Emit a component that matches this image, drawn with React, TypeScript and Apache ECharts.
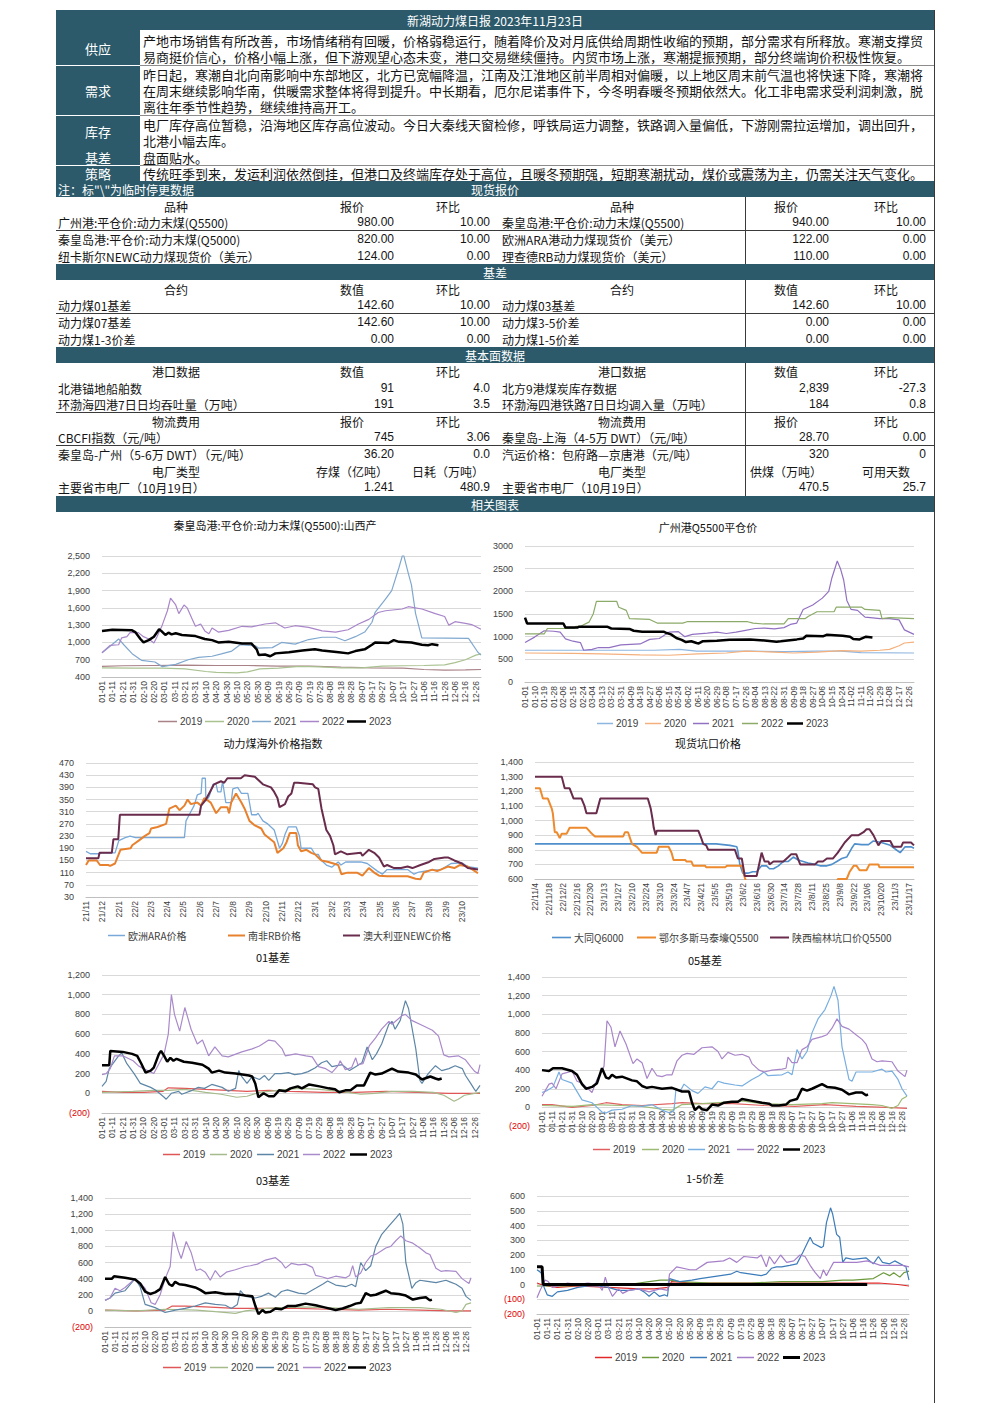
import React, { useEffect, useRef } from 'react';
import * as echarts from 'echarts';

// ---------------- text content ----------------
const reportTitle = '新湖动力煤日报 2023年11月23日';
const commentaryLabels = ['供应', '需求', '库存', '基差', '策略'];
const supplyLines = [
  '产地市场销售有所改善，市场情绪稍有回暖，价格弱稳运行，随着降价及对月底供给周期性收缩的预期，部分需求有所释放。寒潮支撑贸',
  '易商挺价信心，价格小幅上涨，但下游观望心态未变，港口交易继续僵持。内贸市场上涨，寒潮提振预期，部分终端询价积极性恢复。',
];
const demandLines = [
  '昨日起，寒潮自北向南影响中东部地区，北方已宽幅降温，江南及江淮地区前半周相对偏暖，以上地区周末前气温也将快速下降，寒潮将',
  '在周末继续影响华南，供暖需求整体将得到提升。中长期看，厄尔尼诺事件下，今冬明春暖冬预期依然大。化工非电需求受利润刺激，脱',
  '离往年季节性趋势，继续维持高开工。',
];
const stockLines = [
  '电厂库存高位暂稳，沿海地区库存高位波动。今日大秦线天窗检修，呼铁局运力调整，铁路调入量偏低，下游刚需拉运增加，调出回升，',
  '北港小幅去库。',
];
const basisLines = ['盘面贴水。'];
const strategyLines = [
  '传统旺季到来，发运利润依然倒挂，但港口及终端库存处于高位，且暖冬预期强，短期寒潮扰动，煤价或震荡为主，仍需关注天气变化。',
];
const noteText = '注：标"\\"为临时停更数据';
const sectionTitles = ['现货报价', '基差', '基本面数据', '相关图表'];

const spotHeader = ['品种', '报价', '环比', '品种', '报价', '环比'];
const spotRows = [
  ['广州港:平仓价:动力末煤(Q5500)', '980.00', '10.00', '秦皇岛港:平仓价:动力末煤(Q5500)', '940.00', '10.00'],
  ['秦皇岛港:平仓价:动力末煤(Q5000)', '820.00', '10.00', '欧洲ARA港动力煤现货价（美元）', '122.00', '0.00'],
  ['纽卡斯尔NEWC动力煤现货价（美元）', '124.00', '0.00', '理查德RB动力煤现货价（美元）', '110.00', '0.00'],
];
const basisHeader = ['合约', '数值', '环比', '合约', '数值', '环比'];
const basisRows = [
  ['动力煤01基差', '142.60', '10.00', '动力煤03基差', '142.60', '10.00'],
  ['动力煤07基差', '142.60', '10.00', '动力煤3-5价差', '0.00', '0.00'],
  ['动力煤1-3价差', '0.00', '0.00', '动力煤1-5价差', '0.00', '0.00'],
];
const portHeader = ['港口数据', '数值', '环比', '港口数据', '数值', '环比'];
const portRows = [
  ['北港锚地船舶数', '91', '4.0', '北方9港煤炭库存数据', '2,839', '-27.3'],
  ['环渤海四港7日日均吞吐量（万吨）', '191', '3.5', '环渤海四港铁路7日日均调入量（万吨）', '184', '0.8'],
];
const freightHeader = ['物流费用', '报价', '环比', '物流费用', '报价', '环比'];
const freightRows = [
  ['CBCFI指数（元/吨）', '745', '3.06', '秦皇岛-上海（4-5万 DWT）（元/吨）', '28.70', '0.00'],
  ['秦皇岛-广州（5-6万 DWT）（元/吨）', '36.20', '0.0', '汽运价格：包府路—京唐港（元/吨）', '320', '0'],
];
const plantHeader = ['电厂类型', '存煤（亿吨）', '日耗（万吨）', '电厂类型', '供煤（万吨）', '可用天数'];
const plantRows = [
  ['主要省市电厂（10月19日）', '1.241', '480.9', '主要省市电厂（10月19日）', '470.5', '25.7'],
];

// ---------------- chart data ----------------
type Pt = [string, number];
const yearNames = ['2019', '2020', '2021', '2022', '2023'];

// Chart 1: 秦皇岛港 平仓价 Q5500 山西产
const qhd2019: Pt[] = [['01-01',585],['01-21',595],['02-20',600],['03-21',605],['04-20',600],['05-20',600],['06-19',590],['07-19',590],['08-18',570],['09-17',560],['10-17',555],['11-06',530],['11-26',520],['12-16',525],['12-31',530]];
const qhd2020: Pt[] = [['01-01',560],['01-31',555],['02-29',555],['03-21',540],['04-10',495],['04-20',480],['05-10',470],['05-20',490],['06-01',540],['06-19',555],['07-09',585],['07-29',575],['08-18',560],['09-07',560],['09-27',590],['10-17',595],['11-06',600],['11-26',610],['12-06',650],['12-16',700],['12-26',780],['12-31',800]];
const qhd2021: Pt[] = [['01-01',820],['01-10',950],['01-17',1060],['01-22',960],['01-30',805],['02-08',690],['02-21',660],['02-28',580],['03-12',620],['03-24',700],['04-03',740],['04-16',760],['04-25',800],['05-05',850],['05-13',960],['05-28',940],['05-31',900],['06-13',910],['06-22',1000],['07-05',970],['07-18',1050],['07-31',1090],['08-13',1090],['08-22',1030],['09-01',1100],['09-10',1180],['09-17',1350],['09-20',1520],['09-30',1750],['10-06',1900],['10-13',2300],['10-17',2550],['10-22',2200],['10-25',2000],['10-29',1500],['11-04',1080],['12-19',1070],['12-28',830],['12-31',780]];
const qhd2022: Pt[] = [['01-01',820],['01-09',950],['01-17',960],['01-20',1080],['01-25',1100],['01-28',1170],['02-05',1170],['02-10',1100],['02-15',1060],['02-20',990],['02-23',1100],['02-28',1300],['03-04',1550],['03-07',1770],['03-12',1650],['03-15',1500],['03-20',1650],['03-23',1600],['03-28',1400],['03-31',1280],['04-05',1320],['04-09',1200],['04-13',1150],['04-16',1250],['04-22',1180],['05-02',1210],['05-15',1280],['05-24',1270],['06-06',1320],['06-16',1340],['06-25',1250],['07-05',1290],['07-18',1260],['07-31',1200],['08-13',1180],['08-25',1220],['09-04',1320],['09-14',1400],['09-23',1520],['09-30',1550],['10-16',1580],['10-22',1620],['11-04',1580],['11-17',1500],['11-26',1450],['11-30',1300],['12-06',1360],['12-16',1330],['12-22',1310],['12-31',1230]];
const qhd2023: Pt[] = [['01-01',1200],['01-11',1220],['01-30',1210],['02-02',1180],['02-07',1060],['02-10',1000],['02-15',1040],['02-20',1100],['02-25',1230],['02-27',1200],['03-02',1130],['03-05',1170],['03-08',1140],['03-12',1160],['03-18',1130],['03-31',1110],['04-09',1060],['04-16',1040],['04-22',1000],['05-02',1010],['05-15',980],['05-24',980],['05-29',880],['05-31',780],['06-06',790],['06-11',760],['06-16',810],['06-29',830],['07-12',860],['07-24',880],['07-31',860],['08-16',830],['08-25',810],['09-01',850],['09-10',880],['09-17',960],['09-20',1000],['10-03',990],['10-08',1040],['10-13',1010],['10-25',1000],['11-04',960],['11-10',950],['11-14',970],['11-20',950]];

// Chart 2: 广州港Q5500平仓价
const gz2019: Pt[] = [['01-01',700],['03-01',700],['05-01',700],['05-25',720],['06-10',680],['08-01',680],['09-01',670],['10-01',680],['10-24',680],['11-11',650],['12-31',640]];
const gz2020: Pt[] = [['01-01',640],['02-15',630],['03-13',620],['04-18',600],['05-15',590],['06-11',620],['07-08',640],['07-26',680],['08-22',660],['09-09',640],['10-01',660],['10-24',690],['11-11',680],['11-29',700],['12-08',720],['12-17',800],['12-22',860],['12-31',880]];
const gz2021: Pt[] = [['01-01',870],['01-10',990],['01-19',1130],['01-28',1120],['02-03',1100],['02-08',950],['02-15',900],['02-22',870],['02-25',700],['03-04',720],['03-10',760],['03-20',760],['03-31',820],['04-18',840],['04-27',940],['05-06',960],['05-15',1100],['05-24',1110],['05-30',1000],['06-06',1050],['06-20',1080],['06-29',1100],['07-08',1070],['07-17',1100],['07-26',1140],['08-04',1180],['08-13',1190],['08-22',1170],['08-31',1200],['09-06',1270],['09-12',1300],['09-18',1600],['09-27',1700],['10-06',1850],['10-12',2000],['10-15',2300],['10-20',2670],['10-23',2500],['10-26',2250],['10-29',1800],['11-02',1600],['11-08',1580],['11-15',1430],['11-20',1420],['11-29',1400],['12-08',1400],['12-17',1370],['12-22',1150],['12-31',1050]];
const gz2022: Pt[] = [['01-01',1060],['01-19',1060],['01-22',1180],['02-16',1180],['02-18',1230],['02-22',1230],['02-24',1250],['03-01',1320],['03-05',1500],['03-08',1780],['03-27',1780],['03-29',1650],['04-05',1580],['04-08',1400],['04-27',1380],['05-04',1300],['05-28',1300],['06-01',1330],['07-28',1330],['08-02',1300],['08-12',1280],['08-31',1280],['09-04',1400],['09-20',1400],['09-23',1450],['10-01',1550],['10-17',1550],['10-19',1650],['11-12',1650],['11-15',1600],['11-29',1580],['12-01',1400],['12-08',1420],['12-31',1400]];
const gz2023: Pt[] = [['01-01',1420],['01-03',1290],['02-06',1290],['02-08',1200],['02-19',1200],['02-21',1220],['03-18',1220],['03-22',1180],['04-08',1170],['04-12',1130],['04-20',1110],['05-10',1110],['05-13',1080],['05-17',1050],['05-22',970],['05-27',930],['05-31',880],['06-05',900],['06-10',860],['06-12',850],['06-16',900],['06-29',910],['07-11',930],['07-30',940],['08-15',910],['08-24',890],['08-28',900],['09-12',940],['09-18',960],['09-21',1020],['10-07',1010],['10-10',1040],['10-25',1020],['11-01',1000],['11-04',950],['11-10',940],['11-16',1000],['11-22',980]];

// Chart 3: 动力煤海外价格指数
const overseasNames = ['欧洲ARA价格', '南非RB价格', '澳大利亚NEWC价格'];
const araPrice: Pt[] = [['2021-11-01',180],['2021-11-09',172],['2021-11-27',172],['2021-11-30',175],['2021-12-25',175],['2022-01-01',215],['2022-01-13',225],['2022-01-22',230],['2022-02-01',225],['2022-05-03',225],['2022-05-06',280],['2022-05-12',300],['2022-05-21',330],['2022-05-27',365],['2022-06-03',370],['2022-06-05',420],['2022-06-11',420],['2022-06-12',345],['2022-06-18',360],['2022-06-25',400],['2022-07-01',400],['2022-07-04',375],['2022-07-10',375],['2022-07-13',410],['2022-07-19',340],['2022-07-29',340],['2022-08-01',385],['2022-08-10',390],['2022-08-17',370],['2022-08-29',370],['2022-09-05',300],['2022-09-14',300],['2022-09-17',305],['2022-09-26',280],['2022-10-05',270],['2022-10-17',250],['2022-10-27',190],['2022-11-01',205],['2022-11-06',235],['2022-11-12',260],['2022-11-27',260],['2022-12-03',230],['2022-12-06',190],['2022-12-25',190],['2023-01-01',170],['2023-01-07',170],['2023-01-13',150],['2023-01-22',135],['2023-02-01',128],['2023-02-13',145],['2023-02-18',135],['2023-02-27',145],['2023-03-27',145],['2023-04-08',140],['2023-04-27',115],['2023-05-06',105],['2023-05-15',120],['2023-06-22',120],['2023-07-04',105],['2023-07-13',112],['2023-08-04',118],['2023-08-23',120],['2023-09-11',140],['2023-10-01',142],['2023-10-12',130],['2023-10-31',125]];
const rbPrice: Pt[] = [['2021-11-01',135],['2021-11-06',150],['2021-11-21',150],['2021-11-27',135],['2021-12-12',135],['2021-12-16',132],['2021-12-25',140],['2022-01-04',185],['2022-01-23',190],['2022-01-26',200],['2022-02-07',215],['2022-02-18',230],['2022-02-27',240],['2022-03-02',255],['2022-03-14',260],['2022-03-30',270],['2022-04-05',320],['2022-04-17',330],['2022-04-24',315],['2022-05-03',330],['2022-05-09',350],['2022-05-15',335],['2022-05-27',340],['2022-06-03',330],['2022-06-09',355],['2022-06-21',340],['2022-07-01',305],['2022-07-10',325],['2022-07-22',325],['2022-07-25',305],['2022-07-29',340],['2022-08-07',370],['2022-08-17',340],['2022-08-23',320],['2022-09-01',280],['2022-09-11',265],['2022-09-23',255],['2022-09-29',235],['2022-10-17',210],['2022-10-23',175],['2022-11-03',190],['2022-11-09',210],['2022-11-15',240],['2022-11-27',240],['2022-11-30',200],['2022-12-06',180],['2022-12-16',185],['2022-12-25',175],['2023-01-01',170],['2023-01-07',160],['2023-01-13',150],['2023-01-26',145],['2023-02-13',135],['2023-02-19',105],['2023-03-02',110],['2023-03-20',110],['2023-03-30',100],['2023-04-11',125],['2023-04-21',110],['2023-04-30',100],['2023-05-15',98],['2023-06-22',98],['2023-07-07',90],['2023-07-16',88],['2023-07-22',110],['2023-08-07',120],['2023-08-16',115],['2023-09-05',130],['2023-09-17',125],['2023-09-27',135],['2023-10-12',130],['2023-10-21',120],['2023-10-31',108]];
const newcPrice: Pt[] = [['2021-11-01',157],['2021-11-24',157],['2021-11-26',175],['2021-12-19',175],['2021-12-22',220],['2021-12-31',220],['2022-01-03',300],['2022-05-31',300],['2022-06-03',330],['2022-06-12',350],['2022-06-21',380],['2022-06-27',400],['2022-07-10',410],['2022-07-16',405],['2022-07-22',420],['2022-08-16',420],['2022-08-23',430],['2022-09-11',425],['2022-09-20',410],['2022-09-26',400],['2022-10-11',390],['2022-10-17',375],['2022-10-23',355],['2022-10-27',325],['2022-11-06',335],['2022-11-12',360],['2022-11-18',370],['2022-11-23',405],['2022-11-30',405],['2022-12-28',400],['2023-01-01',390],['2023-01-07',385],['2023-01-13',320],['2023-01-22',250],['2023-01-29',230],['2023-02-04',200],['2023-02-07',170],['2023-02-18',180],['2023-03-02',170],['2023-03-27',175],['2023-03-30',165],['2023-04-11',185],['2023-04-21',175],['2023-04-30',160],['2023-05-09',130],['2023-05-15',135],['2023-05-28',125],['2023-06-10',125],['2023-06-22',130],['2023-07-01',125],['2023-07-16',135],['2023-08-01',145],['2023-08-11',155],['2023-08-30',160],['2023-09-05',160],['2023-09-17',150],['2023-10-01',140],['2023-10-12',125],['2023-10-31',120]];

// Chart 4: 现货坑口价格
const mineNames = ['大同Q6000', '鄂尔多斯马泰壕Q5500', '陕西榆林坑口价Q5500'];
const datongPrice: Pt[] = [['2022-11-04',840],['2023-05-06',840],['2023-05-13',835],['2023-05-20',830],['2023-05-27',820],['2023-05-28',790],['2023-05-30',700],['2023-06-02',640],['2023-06-07',640],['2023-06-12',650],['2023-06-16',650],['2023-06-21',690],['2023-06-26',690],['2023-06-29',670],['2023-07-03',670],['2023-07-08',690],['2023-07-13',720],['2023-07-18',720],['2023-07-23',750],['2023-07-28',730],['2023-08-02',720],['2023-08-07',710],['2023-08-14',700],['2023-08-19',690],['2023-08-26',690],['2023-08-31',700],['2023-09-05',720],['2023-09-10',740],['2023-09-15',750],['2023-09-20',810],['2023-09-23',840],['2023-09-30',835],['2023-10-07',835],['2023-10-12',860],['2023-10-20',850],['2023-10-29',830],['2023-11-04',800],['2023-11-08',780],['2023-11-13',820],['2023-11-19',820],['2023-11-22',810]];
const ordosPrice: Pt[] = [['2022-11-04',1220],['2022-11-09',1220],['2022-11-12',1150],['2022-11-17',1150],['2022-11-21',1080],['2022-11-22',1050],['2022-11-24',920],['2022-11-26',920],['2022-11-29',880],['2022-12-01',910],['2022-12-06',910],['2022-12-09',950],['2022-12-26',950],['2022-12-30',920],['2023-01-02',900],['2023-01-04',890],['2023-02-01',890],['2023-02-03',920],['2023-02-06',920],['2023-02-10',840],['2023-02-15',820],['2023-02-20',780],['2023-03-07',780],['2023-03-09',820],['2023-03-19',820],['2023-03-22',780],['2023-03-24',730],['2023-04-05',730],['2023-04-06',720],['2023-04-11',720],['2023-04-13',690],['2023-04-25',690],['2023-04-26',680],['2023-05-15',680],['2023-05-17',690],['2023-06-01',690],['2023-06-04',610],['2023-06-06',570],['2023-09-05',570],['2023-09-06',600],['2023-09-15',600],['2023-09-18',650],['2023-09-22',690],['2023-09-25',690],['2023-09-28',660],['2023-10-05',660],['2023-10-08',700],['2023-10-17',700],['2023-10-18',680],['2023-11-22',680]];
const yulinPrice: Pt[] = [['2022-11-04',1300],['2022-12-01',1300],['2022-12-04',1220],['2022-12-09',1220],['2022-12-13',1150],['2022-12-21',1150],['2022-12-24',1100],['2022-12-26',1050],['2023-01-05',1050],['2023-01-07',1100],['2023-01-09',1150],['2023-02-26',1150],['2023-03-01',1080],['2023-03-03',1000],['2023-03-04',950],['2023-03-06',900],['2023-03-07',930],['2023-04-18',930],['2023-04-21',880],['2023-04-23',840],['2023-04-26',830],['2023-04-28',800],['2023-05-25',800],['2023-05-28',740],['2023-06-01',740],['2023-06-04',620],['2023-06-16',620],['2023-06-21',780],['2023-06-24',720],['2023-06-28',720],['2023-06-29',700],['2023-07-03',720],['2023-07-13',720],['2023-07-18',750],['2023-07-21',770],['2023-07-26',770],['2023-07-30',700],['2023-08-14',700],['2023-08-17',720],['2023-08-22',720],['2023-08-26',740],['2023-09-01',740],['2023-09-06',780],['2023-09-13',850],['2023-09-20',900],['2023-09-27',900],['2023-10-02',920],['2023-10-05',940],['2023-10-08',940],['2023-10-12',900],['2023-10-17',830],['2023-10-20',860],['2023-10-29',860],['2023-11-01',820],['2023-11-09',820],['2023-11-11',850],['2023-11-19',850],['2023-11-22',830]];

// Chart 5: 01基差
const b01_2019: Pt[] = [['01-01',20],['01-21',10],['02-10',10],['02-29',20],['03-05',55],['03-21',50],['04-10',40],['05-01',30],['05-20',20],['06-10',30],['07-01',20],['08-01',10],['09-01',10],['10-01',20],['11-01',10],['12-01',0],['12-31',0]];
const b01_2020: Pt[] = [['01-01',10],['01-31',20],['02-20',30],['03-05',30],['03-21',40],['04-10',10],['04-25',-10],['05-10',-40],['05-20',-30],['06-01',10],['06-19',30],['07-09',50],['07-29',40],['08-18',20],['09-07',-10],['09-20',0],['10-07',20],['10-27',20],['11-16',10],['11-26',-20],['12-06',-80],['12-10',-60],['12-16',-20],['12-26',0],['12-31',10]];
const b01_2021: Pt[] = [['01-01',70],['01-05',120],['01-08',250],['01-17',380],['01-20',410],['01-25',300],['02-01',200],['02-07',100],['02-17',60],['02-22',30],['03-01',-40],['03-03',-60],['03-08',0],['03-15',20],['03-18',-10],['03-28',30],['04-03',60],['04-09',50],['04-16',90],['04-26',60],['05-02',20],['05-09',50],['05-12',230],['05-15',170],['05-20',100],['05-25',170],['06-01',140],['06-06',180],['06-10',130],['06-16',200],['06-22',200],['06-29',210],['07-05',190],['07-12',200],['07-18',220],['07-25',260],['07-31',310],['08-05',330],['08-10',270],['08-20',290],['08-27',230],['09-02',270],['09-08',310],['09-13',470],['09-18',340],['09-22',400],['09-27',500],['10-04',700],['10-07',730],['10-10',650],['10-15',740],['10-20',940],['10-23',860],['10-30',450],['11-03',130],['11-05',100],['11-11',200],['11-18',280],['11-24',230],['12-01',250],['12-07',280],['12-14',250],['12-17',180],['12-22',100],['12-25',50],['12-27',20],['12-31',80]];
const b01_2022: Pt[] = [['01-01',190],['01-05',200],['01-09',250],['01-13',380],['01-21',380],['01-31',330],['02-05',280],['02-10',250],['02-20',200],['02-25',300],['03-01',400],['03-05',600],['03-08',1000],['03-11',800],['03-16',630],['03-21',870],['03-27',650],['04-02',500],['04-07',540],['04-13',380],['04-19',470],['04-26',380],['05-02',370],['05-15',420],['05-25',450],['06-01',480],['06-10',540],['06-16',530],['06-23',450],['06-26',380],['07-06',400],['07-16',380],['07-22',370],['07-28',270],['08-04',250],['08-10',210],['08-16',280],['08-18',330],['08-23',240],['08-29',260],['09-02',360],['09-04',290],['09-09',300],['09-15',480],['09-21',560],['09-27',650],['10-04',730],['10-07',700],['10-17',790],['10-20',800],['10-26',740],['11-05',690],['11-15',640],['11-21',580],['11-26',390],['12-01',370],['12-10',380],['12-17',340],['12-22',270],['12-26',220],['12-29',200],['12-31',290]];
const b01_2023: Pt[] = [['01-01',285],['01-08',285],['01-09',430],['01-21',420],['01-30',400],['02-04',380],['02-08',300],['02-12',210],['02-17',230],['02-20',260],['02-25',400],['02-27',430],['03-01',380],['03-04',320],['03-07',360],['03-10',330],['03-13',350],['03-20',320],['03-28',310],['04-07',290],['04-13',250],['04-16',210],['04-23',230],['04-29',210],['05-09',200],['05-22',180],['05-25',170],['05-28',100],['05-31',-40],['06-05',0],['06-10',-30],['06-15',-30],['06-20',30],['06-26',20],['07-01',50],['07-08',70],['07-12',50],['07-19',90],['07-29',70],['08-07',50],['08-13',40],['08-17',10],['08-23',30],['08-28',30],['09-03',80],['09-10',80],['09-16',210],['09-21',190],['09-27',200],['10-07',250],['10-13',220],['10-23',210],['10-30',190],['11-05',140],['11-13',170],['11-18',150],['11-21',140],['11-24',150]];

// Chart 6: 05基差
const b05_2019: Pt[] = [['01-01',30],['01-11',30],['01-31',0],['02-20',20],['03-05',50],['03-21',30],['04-10',20],['05-10',40],['05-20',50],['06-10',40],['07-10',40],['08-10',20],['09-10',10],['10-10',30],['11-10',10],['12-10',0],['12-31',-10]];
const b05_2020: Pt[] = [['01-01',20],['02-01',10],['02-20',30],['03-20',20],['04-10',10],['04-30',-20],['05-10',-30],['05-15',0],['05-20',30],['06-09',40],['07-09',60],['07-19',70],['08-08',40],['09-07',30],['10-07',40],['10-17',50],['11-06',40],['11-26',30],['12-06',20],['12-16',-10],['12-22',20],['12-26',90],['12-31',120]];
const b05_2021: Pt[] = [['01-01',160],['01-06',180],['01-12',220],['01-18',380],['01-21',300],['01-31',260],['02-10',80],['02-20',50],['02-25',0],['03-01',-50],['03-05',-60],['03-11',-30],['03-21',-20],['03-31',20],['04-10',10],['04-20',30],['04-30',-30],['05-08',-60],['05-12',-30],['05-14',200],['05-18',170],['05-22',250],['05-30',180],['06-05',150],['06-12',220],['06-19',200],['06-25',280],['07-01',260],['07-12',240],['07-19',230],['07-29',300],['08-05',340],['08-10',380],['08-14',340],['08-28',350],['09-03',380],['09-07',350],['09-12',620],['09-17',520],['09-22',600],['09-27',800],['10-03',950],['10-10',1050],['10-16',1200],['10-19',1300],['10-23',1150],['10-27',650],['11-03',300],['11-06',280],['11-10',380],['11-16',380],['11-26',380],['12-06',410],['12-10',380],['12-16',390],['12-22',300],['12-26',200],['12-31',120]];
const b05_2022: Pt[] = [['01-01',120],['01-08',250],['01-11',260],['01-15',200],['01-21',360],['01-31',390],['02-05',280],['02-10',260],['02-20',160],['02-25',300],['03-03',440],['03-06',930],['03-10',860],['03-14',650],['03-19',820],['03-25',680],['04-01',470],['04-05',520],['04-10',480],['04-15',310],['04-20',420],['04-25',340],['04-30',330],['05-05',350],['05-10',350],['05-15',500],['05-20',560],['05-25',580],['06-01',570],['06-09',640],['06-19',650],['06-25',600],['06-29',520],['07-05',590],['07-12',560],['07-19',570],['07-26',540],['07-29',470],['08-05',400],['08-10',380],['08-18',400],['08-28',410],['09-01',420],['09-03',540],['09-07',480],['09-12',480],['09-17',620],['09-22',650],['09-27',730],['10-07',760],['10-12',780],['10-17',850],['10-22',950],['10-27',870],['11-03',840],['11-10',780],['11-16',730],['11-20',680],['11-26',520],['12-01',490],['12-06',500],['12-16',490],['12-22',390],['12-29',330],['12-31',400]];
const b05_2023: Pt[] = [['01-01',400],['01-08',390],['01-12',420],['01-21',420],['01-31',390],['02-05',350],['02-10',250],['02-14',200],['02-20',220],['02-25',260],['03-01',420],['03-05',320],['03-08',310],['03-11',350],['03-15',320],['03-21',330],['03-31',290],['04-05',280],['04-10',230],['04-15',210],['04-20',220],['04-30',200],['05-10',210],['05-20',170],['05-27',170],['05-30',50],['06-02',-30],['06-06',10],['06-09',-20],['06-14',-30],['06-19',30],['06-25',20],['07-01',50],['07-09',60],['07-15',60],['07-19',90],['07-29',70],['08-08',50],['08-15',40],['08-18',20],['08-25',20],['09-01',30],['09-05',70],['09-12',90],['09-17',200],['09-22',180],['09-27',200],['10-07',250],['10-12',220],['10-20',210],['10-27',190],['11-03',140],['11-10',160],['11-16',160],['11-20',130],['11-22',140]];

// Chart 7: 03基差
const b03_2019: Pt[] = [['01-01',10],['02-01',0],['03-01',10],['03-08',60],['03-21',60],['04-10',50],['05-10',30],['06-10',30],['07-10',30],['08-10',20],['09-10',10],['10-10',20],['11-10',10],['12-10',0],['12-31',0]];
const b03_2020: Pt[] = [['01-01',10],['02-01',0],['03-01',20],['04-01',10],['04-20',-10],['05-10',-30],['05-20',0],['06-10',30],['07-10',50],['08-10',40],['09-10',20],['10-10',40],['11-10',40],['12-01',20],['12-16',-20],['12-22',0],['12-26',80],['12-31',100]];
const b03_2021: Pt[] = [['01-01',130],['01-06',160],['01-11',220],['01-21',250],['01-31',400],['02-05',300],['02-10',80],['02-20',40],['02-25',10],['03-01',-20],['03-11',10],['03-21',30],['03-31',60],['04-10',100],['04-20',80],['04-30',70],['05-06',30],['05-12',80],['05-15',250],['05-20',180],['05-30',160],['06-05',180],['06-12',220],['06-19',170],['06-25',240],['07-01',260],['07-12',220],['07-19',210],['07-29',280],['08-05',330],['08-10',370],['08-18',320],['08-28',300],['09-03',330],['09-07',300],['09-12',600],['09-17',500],['09-22',560],['09-27',800],['10-03',950],['10-10',1050],['10-17',1150],['10-21',1210],['10-24',1080],['10-27',600],['11-02',280],['11-06',350],['11-10',380],['11-16',370],['11-26',350],['12-06',380],['12-10',360],['12-16',330],['12-22',280],['12-26',180],['12-31',130]];
const b03_2022: Pt[] = [['01-01',130],['01-06',160],['01-11',280],['01-16',250],['01-21',290],['01-31',400],['02-05',350],['02-10',280],['02-16',100],['02-20',80],['02-25',200],['03-01',400],['03-06',550],['03-09',980],['03-14',750],['03-17',650],['03-22',860],['03-27',720],['04-01',500],['04-05',520],['04-10',480],['04-15',380],['04-20',500],['04-25',420],['05-01',480],['05-10',510],['05-20',550],['05-25',560],['06-01',580],['06-09',630],['06-19',660],['06-25',600],['06-29',530],['07-05',590],['07-12',570],['07-19',580],['07-26',540],['07-29',440],['08-05',420],['08-10',400],['08-18',430],['08-28',410],['09-01',440],['09-04',560],['09-07',420],['09-12',470],['09-17',600],['09-22',680],['09-27',700],['10-07',780],['10-12',800],['10-17',870],['10-22',930],['10-27',870],['11-03',840],['11-10',780],['11-16',720],['11-20',700],['11-26',530],['12-01',490],['12-06',500],['12-16',490],['12-22',400],['12-29',340],['12-31',410]];
const b03_2023: Pt[] = [['01-01',400],['01-08',400],['01-10',430],['01-21',410],['01-31',390],['02-05',340],['02-10',240],['02-15',210],['02-20',230],['02-25',270],['03-01',420],['03-05',330],['03-08',310],['03-11',360],['03-15',330],['03-21',320],['03-31',290],['04-05',260],['04-10',220],['04-20',230],['04-30',210],['05-10',210],['05-20',190],['05-27',180],['05-30',60],['06-02',-40],['06-06',10],['06-09',-20],['06-14',-10],['06-19',30],['06-25',20],['07-01',60],['07-09',60],['07-19',90],['07-29',70],['08-08',40],['08-18',10],['08-25',30],['09-01',60],['09-07',90],['09-12',100],['09-17',220],['09-22',190],['09-27',200],['10-07',250],['10-12',220],['10-20',210],['10-27',190],['11-03',140],['11-10',160],['11-16',170],['11-20',130],['11-22',140]];

// Chart 8: 1-5价差
const s15_2019: Pt[] = [['01-01',10],['01-05',0],['01-11',-10],['01-21',-20],['02-10',-10],['03-11',-20],['04-10',-30],['04-25',-30],['05-09',-20],['05-12',20],['06-01',10],['07-01',10],['08-01',10],['09-01',10],['10-01',10],['11-01',10],['12-01',10],['12-20',0],['12-31',-10]];
const s15_2020: Pt[] = [['01-01',-10],['02-01',-10],['03-01',0],['03-31',0],['04-10',10],['04-20',20],['05-01',30],['05-10',30],['05-20',20],['06-19',10],['07-29',10],['08-28',20],['09-27',20],['10-07',20],['10-27',30],['11-06',30],['11-26',40],['12-06',80],['12-12',60],['12-16',80],['12-22',50],['12-26',80],['12-31',90]];
const s15_2021: Pt[] = [['01-01',100],['01-05',80],['01-08',-20],['01-11',-70],['01-16',-80],['01-21',-50],['01-31',-40],['02-10',-20],['02-20',-10],['03-01',-10],['03-11',-20],['03-21',-40],['03-31',-40],['04-10',-30],['04-15',-50],['04-20',-80],['04-25',-50],['04-30',-80],['05-05',-70],['05-08',-80],['05-10',40],['05-20',20],['06-01',30],['06-09',40],['06-19',50],['06-29',60],['07-09',70],['07-15',90],['07-19',80],['07-29',70],['08-08',60],['08-13',70],['08-18',110],['08-23',120],['08-28',120],['09-05',130],['09-12',140],['09-18',220],['09-25',320],['09-28',280],['10-06',250],['10-08',260],['10-11',420],['10-15',520],['10-17',480],['10-21',340],['10-24',320],['10-27',150],['10-30',180],['11-06',170],['11-19',180],['11-26',140],['12-01',190],['12-05',150],['12-12',140],['12-17',160],['12-25',130],['12-28',120],['12-31',30]];
const s15_2022: Pt[] = [['01-01',-90],['01-04',-40],['01-09',30],['01-12',20],['01-16',-20],['01-21',-10],['01-31',10],['02-10',0],['02-20',10],['03-01',0],['03-05',-40],['03-08',50],['03-11',-20],['03-15',-80],['03-21',-30],['03-25',-60],['03-31',-40],['04-10',-30],['04-20',-50],['04-25',-40],['05-01',-30],['05-08',-40],['05-10',70],['05-17',120],['05-30',100],['06-05',100],['06-16',150],['07-02',160],['07-08',180],['07-15',150],['07-22',190],['08-04',180],['08-08',200],['08-13',120],['08-16',190],['08-21',140],['08-27',200],['09-02',150],['09-09',160],['09-15',200],['09-20',190],['09-25',130],['09-30',80],['10-05',40],['10-08',100],['10-11',60],['10-14',100],['10-18',150],['11-10',150],['11-20',160],['12-03',130],['12-25',130],['12-31',120]];
const s15_2023: Pt[] = [['01-01',120],['01-06',120],['01-07',0],['11-20',0]];

// ---------------- helpers ----------------
const CJK = 'Noto Sans CJK SC';
const LAT = 'Liberation Sans';
const TEAL = '#2c5a6a';
const pad = (n: number) => (n < 10 ? '0' + n : '' + n);

function seasonDays(): string[] {
  const md = [31, 29, 31, 30, 31, 30, 31, 31, 30, 31, 30, 31];
  const out: string[] = [];
  md.forEach((n, m) => { for (let d = 1; d <= n; d++) out.push(pad(m + 1) + '-' + pad(d)); });
  return out;
}
function dateRange(y0: number, m0: number, d0: number, y1: number, m1: number, d1: number): string[] {
  const out: string[] = [];
  let t = Date.UTC(y0, m0 - 1, d0);
  const end = Date.UTC(y1, m1 - 1, d1);
  while (t <= end) {
    const dt = new Date(t);
    out.push(dt.getUTCFullYear() + '-' + pad(dt.getUTCMonth() + 1) + '-' + pad(dt.getUTCDate()));
    t += 86400000;
  }
  return out;
}
function toIdx(cats: string[], pts: Pt[]) {
  const m = new Map(cats.map((c, i) => [c, i] as [string, number]));
  const out: [number, number][] = [];
  pts.forEach(([d, v]) => { const i = m.get(d); if (i === undefined) console.warn('bad date', d); else out.push([i, v]); });
  return out;
}
const fmtK = (v: number) => (v < 0 ? '{neg|(' + Math.abs(v).toLocaleString('en-US') + ')}' : v.toLocaleString('en-US'));
const fmtP = (v: number) => (v < 0 ? '{neg|(' + Math.abs(v) + ')}' : String(v));

function txt(text: string, x: number, y: number, o: any = {}) {
  return {
    type: 'text', x, y, silent: true, z: 10,
    style: {
      text, fill: o.fill || '#141414', fontSize: o.size || 12, fontFamily: o.font || CJK,
      textAlign: o.align || 'left', textVerticalAlign: 'middle', fontWeight: o.weight || 'normal',
    },
  };
}
function rect(x: number, y: number, w: number, h: number, fill: string) {
  return { type: 'rect', silent: true, z: 5, shape: { x, y, width: w, height: h }, style: { fill } };
}
function line(x1: number, y1: number, x2: number, y2: number, stroke: string, w = 1) {
  return { type: 'line', silent: true, z: 8, shape: { x1, y1, x2, y2 }, style: { stroke, lineWidth: w } };
}

// ---------------- layout ----------------
const SEASON = seasonDays();
const OVERSEAS = dateRange(2021, 11, 1, 2023, 10, 31);
const MINE = dateRange(2022, 11, 4, 2023, 11, 22);

type SeriesDef = { name: string; data: Pt[]; color: string; width: number };
type Panel = {
  title: string; tx: number; ty: number;
  grid: { left: number; top: number; width: number; height: number };
  cats: string[]; interval: any; labelFmt?: (v: string) => string; labelMargin?: number;
  y: { min: number; max: number; interval: number; fmt: (v: number) => string };
  series: SeriesDef[]; legendX: number[]; legendY: number; legendLen: number;
};

function years(datas: Pt[][], colors: string[], blackW = 2.5): SeriesDef[] {
  return datas.map((d, i) => ({ name: yearNames[i], data: d, color: colors[i], width: i === 4 ? blackW : 1.2 }));
}

const panels: Panel[] = [
  {
    title: '秦皇岛港:平仓价:动力末煤(Q5500):山西产', tx: 275, ty: 525,
    grid: { left: 102, top: 556, width: 379, height: 121 }, cats: SEASON, interval: 9,
    y: { min: 400, max: 2500, interval: 300, fmt: fmtK },
    series: years([qhd2019, qhd2020, qhd2021, qhd2022, qhd2023], ['#a98288', '#a9c290', '#80a8cf', '#a986c9', '#000000']),
    legendX: [158, 205, 252, 300, 347], legendY: 721, legendLen: 19,
  },
  {
    title: '广州港Q5500平仓价', tx: 708, ty: 527,
    grid: { left: 525, top: 546, width: 389, height: 136 }, cats: SEASON, interval: 8,
    y: { min: 0, max: 3000, interval: 500, fmt: fmtP },
    series: years([gz2019, gz2020, gz2021, gz2022, gz2023], ['#8fb6e0', '#f4b07c', '#9271c2', '#8cab68', '#000000']),
    legendX: [597, 645, 693, 742, 787], legendY: 723, legendLen: 16,
  },
  {
    title: '动力煤海外价格指数', tx: 273, ty: 743,
    grid: { left: 86, top: 763, width: 392, height: 134 }, cats: OVERSEAS,
    interval: (i: number, v: string) => v.slice(8) === '01',
    labelFmt: (v: string) => v.slice(2, 4) + '/' + Number(v.slice(5, 7)),
    y: { min: 30, max: 470, interval: 40, fmt: fmtP },
    series: [
      { name: overseasNames[0], data: araPrice, color: '#79a9d8', width: 1.3 },
      { name: overseasNames[1], data: rbPrice, color: '#e8812e', width: 2 },
      { name: overseasNames[2], data: newcPrice, color: '#6a2c4c', width: 2 },
    ],
    legendX: [108, 228, 343], legendY: 935, legendLen: 17,
  },
  {
    title: '现货坑口价格', tx: 708, ty: 743,
    grid: { left: 535, top: 762, width: 379, height: 117 }, cats: MINE, interval: 13,
    labelFmt: (v: string) => v.slice(2, 4) + '/' + Number(v.slice(5, 7)) + '/' + Number(v.slice(8, 10)),
    y: { min: 600, max: 1400, interval: 100, fmt: fmtK },
    series: [
      { name: mineNames[0], data: datongPrice, color: '#4f8fcb', width: 1.6 },
      { name: mineNames[1], data: ordosPrice, color: '#ee8a2e', width: 2 },
      { name: mineNames[2], data: yulinPrice, color: '#6a2c4c', width: 2 },
    ],
    legendX: [552, 637, 770], legendY: 937, legendLen: 19,
  },
  {
    title: '01基差', tx: 273, ty: 957,
    grid: { left: 102, top: 975, width: 378, height: 138 }, cats: SEASON, interval: 9,
    y: { min: -200, max: 1200, interval: 200, fmt: fmtK },
    series: years([b01_2019, b01_2020, b01_2021, b01_2022, b01_2023], ['#e05555', '#a6bb8c', '#5d86a6', '#a98aca', '#000000']),
    legendX: [163, 210, 257, 303, 350], legendY: 1154, legendLen: 17,
  },
  {
    title: '05基差', tx: 705, ty: 960,
    grid: { left: 542, top: 977, width: 365, height: 149 }, cats: SEASON, interval: 9, labelMargin: -15,
    y: { min: -200, max: 1400, interval: 200, fmt: fmtK },
    series: years([b05_2019, b05_2020, b05_2021, b05_2022, b05_2023], ['#e06060', '#9dbb74', '#78aee0', '#a986c9', '#000000']),
    legendX: [593, 642, 688, 737, 783], legendY: 1149, legendLen: 17,
  },
  {
    title: '03基差', tx: 273, ty: 1180,
    grid: { left: 105, top: 1198, width: 366, height: 129 }, cats: SEASON, interval: 9,
    y: { min: -200, max: 1400, interval: 200, fmt: fmtK },
    series: years([b03_2019, b03_2020, b03_2021, b03_2022, b03_2023], ['#e05555', '#a6bb8c', '#5d86a6', '#a98aca', '#000000']),
    legendX: [163, 210, 256, 303, 348], legendY: 1367, legendLen: 18,
  },
  {
    title: '1-5价差', tx: 705, ty: 1178,
    grid: { left: 537, top: 1196, width: 372, height: 118 }, cats: SEASON, interval: 9,
    y: { min: -200, max: 600, interval: 100, fmt: fmtP },
    series: years([s15_2019, s15_2020, s15_2021, s15_2022, s15_2023], ['#e02828', '#6c9a3c', '#3c7cba', '#a67fc9', '#000000'], 3),
    legendX: [595, 642, 690, 737, 783], legendY: 1357, legendLen: 17,
  },
];

function buildGraphic() {
  const g: any[] = [];
  const L = 56, R = 934, LW = 84;
  // title bar
  g.push(rect(L, 10, R - L, 20, TEAL));
  g.push(txt(reportTitle, 495, 20, { fill: '#ffffff', size: 12, align: 'center' }));
  // commentary block
  g.push(rect(L, 30, LW, 151, TEAL));
  const blocks = [
    { lines: supplyLines, ys: [40, 56.5] },
    { lines: demandLines, ys: [74, 90.3, 106.6] },
    { lines: [...stockLines, ...basisLines], ys: [124.5, 140.8, 157] },
    { lines: strategyLines, ys: [173.5] },
  ];
  blocks.forEach(b => b.lines.forEach((s, i) => g.push(txt(s, 143, b.ys[i], { size: 13 }))));
  const labelYs = [48, 90, 131, 157, 173.5];
  commentaryLabels.forEach((s, i) => g.push(txt(s, L + LW / 2, labelYs[i], { fill: '#ffffff', size: 13, align: 'center' })));
  [65.5, 115.5, 165.5].forEach(y => {
    g.push(line(L, y, L + LW, y, '#ffffff', 1));
    g.push(line(L + LW, y, R, y, '#8c8c8c', 1));
  });
  // section bars
  const bars = [181, 264, 347, 496];
  bars.forEach((y, i) => {
    g.push(rect(L, y, R - L, 16, TEAL));
    g.push(txt(sectionTitles[i], 495, y + 8.5, { fill: '#ffffff', size: 12, align: 'center' }));
  });
  g.push(txt(noteText, 58, 189.5, { fill: '#ffffff', size: 12 }));
  // tables
  const hdrX = [176, 352, 448, 622, 786, 886];
  const addHeader = (cells: string[], y: number) =>
    cells.forEach((c, i) => g.push(txt(c, hdrX[i], y, { size: 12, align: 'center' })));
  const addRow = (cells: string[], y: number) => {
    g.push(txt(cells[0], 58, y, { size: 12 }));
    g.push(txt(cells[1], 394, y, { size: 12, align: 'right', font: LAT }));
    g.push(txt(cells[2], 490, y, { size: 12, align: 'right', font: LAT }));
    g.push(txt(cells[3], 502, y, { size: 12 }));
    g.push(txt(cells[4], 829, y, { size: 12, align: 'right', font: LAT }));
    g.push(txt(cells[5], 926, y, { size: 12, align: 'right', font: LAT }));
  };
  addHeader(spotHeader, 206);
  spotRows.forEach((r, i) => addRow(r, [222, 239, 256][i]));
  addHeader(basisHeader, 289);
  basisRows.forEach((r, i) => addRow(r, [305, 322, 339][i]));
  addHeader(portHeader, 371);
  portRows.forEach((r, i) => addRow(r, [388, 404][i]));
  addHeader(freightHeader, 421);
  freightRows.forEach((r, i) => addRow(r, [437, 454][i]));
  addHeader(plantHeader, 471);
  plantRows.forEach((r, i) => addRow(r, [487][i]));
  [230.5, 313.5, 412.5, 445.5].forEach(y => g.push(line(L, y, R, y, '#3a3a3a', 1)));
  [[197, 264], [280, 347], [363, 496]].forEach(([a, b]) => g.push(line(745.5, a, 745.5, b, '#3a3a3a', 1)));
  // right border of report
  g.push(line(934.5, 10, 934.5, 1403, '#3a3a3a', 1));
  // chart titles and legends
  panels.forEach(p => {
    g.push(txt(p.title, p.tx, p.ty, { size: 11, align: 'center', fill: '#111' }));
    p.series.forEach((s, i) => {
      const x = p.legendX[i];
      g.push(line(x, p.legendY + 0.5, x + p.legendLen, p.legendY + 0.5, s.color, Math.max(1.5, s.width)));
      g.push(txt(s.name, x + p.legendLen + 3, p.legendY, { size: 10, fill: '#404040', font: /^\d{4}$/.test(s.name) ? LAT : CJK }));
    });
  });
  return g;
}

function buildOption() {
  const grid: any[] = [], xAxis: any[] = [], yAxis: any[] = [], series: any[] = [];
  panels.forEach((p, i) => {
    grid.push({ ...p.grid, containLabel: false });
    xAxis.push({
      type: 'category', gridIndex: i, data: p.cats, boundaryGap: false,
      axisLine: { show: true, onZero: false, lineStyle: { color: '#bfbfbf', width: 1 } },
      axisTick: { show: false }, splitLine: { show: false },
      axisLabel: {
        rotate: 90, interval: p.interval, fontSize: 8.5, color: '#404040',
        margin: p.labelMargin != null ? p.labelMargin : 4, fontFamily: LAT,
        formatter: p.labelFmt ? p.labelFmt : (v: string) => v,
      },
    });
    yAxis.push({
      type: 'value', gridIndex: i, min: p.y.min, max: p.y.max, interval: p.y.interval,
      axisLine: { show: false }, axisTick: { show: false },
      splitLine: { show: true, lineStyle: { color: '#d9d9d9', width: 1 } },
      axisLabel: {
        fontSize: 9, color: '#404040', margin: 12, fontFamily: LAT, formatter: p.y.fmt,
        rich: { neg: { color: '#e00000', fontSize: 9, fontFamily: LAT } },
      },
    });
    p.series.forEach((s, k) => {
      series.push({
        type: 'line', name: s.name + '#' + i, xAxisIndex: i, yAxisIndex: i,
        data: toIdx(p.cats, s.data), symbol: 'none', showSymbol: false, silent: true,
        lineStyle: { color: s.color, width: s.width }, itemStyle: { color: s.color },
        z: 2 + k, clip: true,
      });
    });
  });
  return {
    animation: false,
    backgroundColor: '#ffffff',
    textStyle: { fontFamily: CJK },
    grid, xAxis, yAxis, series,
    graphic: { elements: buildGraphic() },
  };
}

export default function App() {
  const ref = useRef<HTMLDivElement>(null);
  useEffect(() => {
    if (!ref.current) return;
    const chart = echarts.init(ref.current, undefined, { renderer: 'svg' });
    chart.setOption(buildOption() as any);
    return () => chart.dispose();
  }, []);
  return <div ref={ref} style={{ position: 'absolute', left: 0, top: 0, width: 992, height: 1403 }} />;
}
